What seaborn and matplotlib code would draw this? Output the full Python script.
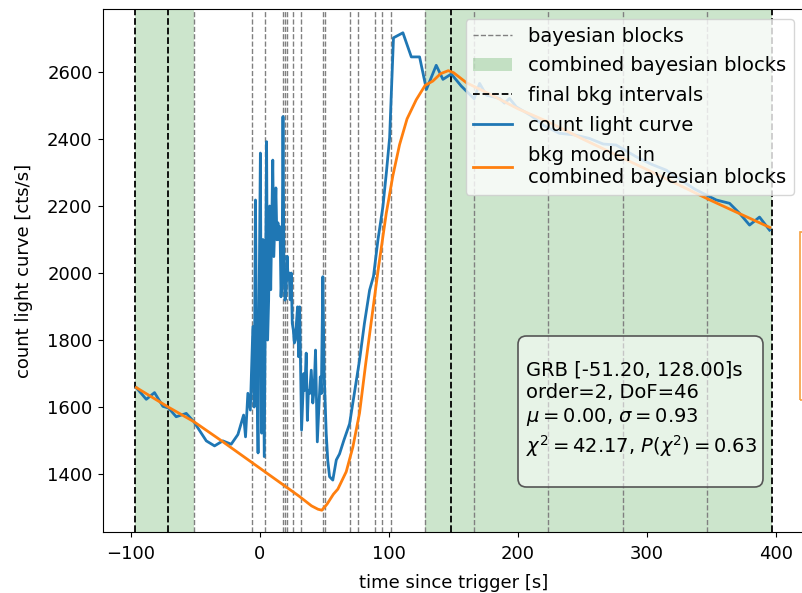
import matplotlib
matplotlib.use("Agg")
import matplotlib.pyplot as plt
from matplotlib.patches import FancyBboxPatch, Rectangle, Patch
from matplotlib.lines import Line2D
import seaborn as sns
import pandas as pd

# ---------------- data ----------------
lc_time = [-95.7, -88.0, -81.6, -75.1, -70.7, -64.8, -57.0, -51.1, -46.7, -41.5,
           -35.1, -28.7, -22.2, -17.0, -12.6, -11.1, -9.3, -7.4, -5.4, -4.4,
           -3.4, -2.4, -1.4, -0.4, 0.4, 1.4, 2.4, 3.4, 4.4, 5.2,
           6.0, 6.8, 7.6, 8.4, 9.2, 10.0, 10.8, 11.6, 12.4, 13.2,
           14.0, 14.8, 15.6, 16.4, 17.2, 17.9, 18.7, 19.5, 20.3, 21.1,
           21.9, 22.7, 23.5, 24.3, 25.1, 25.9, 26.7, 27.5, 28.3, 29.2,
           30.0, 30.8, 31.6, 32.3, 33.2, 34.0, 34.8, 35.9, 36.8, 37.6,
           38.5, 39.8, 41.0, 42.0, 43.1, 44.5, 45.6, 46.8, 47.6, 48.8,
           49.8, 51.4, 52.6, 54.0, 56.5, 59.2, 61.7, 65.0, 69.5, 77.2,
           81.0, 85.0, 88.0, 91.5, 95.3, 98.0, 100.5, 102.0, 103.5, 110.8,
           117.3, 123.7, 129.0, 136.6, 141.8, 148.3, 156.0, 166.0, 170.2, 175.4,
           185.7, 189.5, 193.4, 198.6, 210.0, 220.0, 232.0, 244.0, 255.0, 266.0,
           276.0, 291.5, 303.0, 314.8, 325.0, 337.0, 348.3, 353.5, 363.8, 371.6,
           379.3, 387.0, 394.8]
lc_counts = [1658, 1623, 1643, 1602, 1597, 1571, 1581, 1556, 1530, 1499,
             1484, 1499, 1489, 1518, 1576, 1511, 1641, 1591, 1840, 1600,
             2218, 1700, 1463, 2000, 2358, 1522, 2100, 1452, 2000, 2392,
             1800, 1919, 2200, 1950, 2150, 2337, 2049, 2150, 2254, 2099,
             2150, 2100, 2138, 1929, 2000, 2467, 2000, 1919, 1939, 2050,
             1980, 2000, 1920, 2000, 1850, 1830, 1791, 1800, 1850, 1899,
             1750, 1899, 1700, 1531, 1620, 1700, 1650, 1761, 1560, 1650,
             1640, 1710, 1612, 1650, 1770, 1496, 1590, 1690, 1640, 1989,
             1700, 1521, 1440, 1392, 1382, 1442, 1460, 1500, 1550, 1740,
             1850, 1949, 1990, 2100, 2198, 2300, 2404, 2550, 2702, 2717,
             2645, 2645, 2548, 2620, 2578, 2594, 2558, 2520, 2566, 2531,
             2521, 2507, 2521, 2496, 2470, 2440, 2417, 2412, 2402, 2385,
             2382, 2347, 2325, 2307, 2280, 2250, 2228, 2218, 2208, 2178,
             2143, 2167, 2128]

bkg_time = [-95.7, -71.0, -51.0, -30.0, -10.0, 10.0, 30.0, 40.0, 45.0, 48.0,
            52.0, 57.0, 60.4, 66.9, 72.0, 77.2, 82.0, 87.5, 92.0, 97.9,
            103.0, 108.2, 114.0, 121.1, 128.0, 134.0, 140.0, 146.0, 150.0, 160.0,
            180.0, 200.0, 224.0, 250.0, 280.0, 310.0, 348.0, 370.0, 395.0]
bkg_model = [1658, 1600, 1556, 1500, 1445, 1390, 1335, 1305, 1295, 1292,
             1310, 1340, 1355, 1407, 1480, 1582, 1730, 1890, 2020, 2178,
             2290, 2383, 2460, 2517, 2560, 2573, 2595, 2604, 2598, 2568,
             2530, 2490, 2450, 2400, 2345, 2290, 2219, 2180, 2136]

bayesian_edges = [-51.2, -6.2, 4.2, 17.8, 19.1, 20.9, 25.6, 31.5, 48.8, 50.3,
                  69.5, 75.9, 88.8, 94.8, 101.8, 128.0, 166.0, 223.4, 281.6, 346.0]
combined_blocks = [(-96.5, -51.2), (128.0, 396.4)]
final_bkg_edges = [-96.5, -71.2, 148.0, 396.4]

legend_labels = ["bayesian blocks", "combined bayesian blocks", "final bkg intervals",
                 "count light curve", "bkg model in\ncombined bayesian blocks"]
fit_text = ("GRB [-51.20, 128.00]s\norder=2, DoF=46\n"
            "$\\mu=0.00$, $\\sigma=0.93$\n$\\chi^2=42.17$, $P(\\chi^2)=0.63$")
x_label = "time since trigger [s]"
y_label = "count light curve [cts/s]"

# ---------------- figure ----------------
plt.rcParams["font.size"] = 13
W, H = 803, 593
fig = plt.figure(figsize=(W / 100, H / 100), dpi=100)
ax_l, ax_r, ax_t, ax_b = 103, 803.4, 9, 532
ax = fig.add_axes([ax_l / W, (H - ax_b) / H, (ax_r - ax_l) / W, (ax_b - ax_t) / H])

for a, b in combined_blocks:
    ax.axvspan(a, b, color="green", alpha=0.2, lw=0, zorder=0)
for e in bayesian_edges:
    ax.axvline(e, color="gray", ls="--", lw=1.0, zorder=1)
for e in final_bkg_edges:
    ax.axvline(e, color="black", ls="--", lw=1.3, zorder=1.5)

lc_df = pd.DataFrame({"t": lc_time, "c": lc_counts})
bkg_df = pd.DataFrame({"t": bkg_time, "b": bkg_model})
sns.lineplot(data=lc_df, x="t", y="c", ax=ax, color="tab:blue", lw=2, sort=False,
             estimator=None, zorder=3)
sns.lineplot(data=bkg_df, x="t", y="b", ax=ax, color="tab:orange", lw=2, sort=False,
             estimator=None, zorder=4)

ax.set_xlim(-121.5, 421)
ax.set_ylim(1227, 2788)
ax.set_xticks([-100, 0, 100, 200, 300, 400])
ax.set_yticks([1400, 1600, 1800, 2000, 2200, 2400, 2600])
ax.tick_params(labelsize=13, pad=4)
ax.tick_params(axis="x", pad=6)
ax.set_xlabel(x_label, fontsize=13, labelpad=8)
ax.set_ylabel(y_label, fontsize=13, labelpad=10)

handles = [Line2D([], [], color="gray", ls="--", lw=1.0),
           Patch(facecolor="green", alpha=0.2),
           Line2D([], [], color="black", ls="--", lw=1.3),
           Line2D([], [], color="tab:blue", lw=2),
           Line2D([], [], color="tab:orange", lw=2)]
ax.legend(handles, legend_labels, loc="upper right", fontsize=14, labelspacing=0.56)

# fit statistics box
def px2ax(px, py):
    return (px - ax_l) / (ax_r - ax_l), (ax_b - py) / (ax_b - ax_t)

bx0, by0 = px2ax(518, 487)
bx1, by1 = px2ax(763, 336)
asp = (ax_r - ax_l) / (ax_b - ax_t)
box = FancyBboxPatch((bx0, by0), bx1 - bx0, by1 - by0,
                     boxstyle="round,pad=0,rounding_size=0.012",
                     mutation_aspect=asp, transform=ax.transAxes,
                     facecolor="white", alpha=0.55, edgecolor="none", zorder=5)
ax.add_patch(box)
box2 = FancyBboxPatch((bx0, by0), bx1 - bx0, by1 - by0,
                      boxstyle="round,pad=0,rounding_size=0.012",
                      mutation_aspect=asp, transform=ax.transAxes,
                      facecolor="none", edgecolor="#555555", lw=1.2, zorder=5.1)
ax.add_patch(box2)
tx, ty = px2ax(526, 410)
ax.text(tx, ty, fit_text, transform=ax.transAxes, ha="left", va="center",
        fontsize=14, linespacing=1.25, zorder=6)

# edge of a neighbouring element at the right border
fig.patches.append(Rectangle((800 / W, (H - 400) / H), 0.05, (400 - 232) / H,
                             transform=fig.transFigure, fill=False,
                             edgecolor="#f5a040", lw=1.2))

fig.savefig("out.png", dpi=100)
